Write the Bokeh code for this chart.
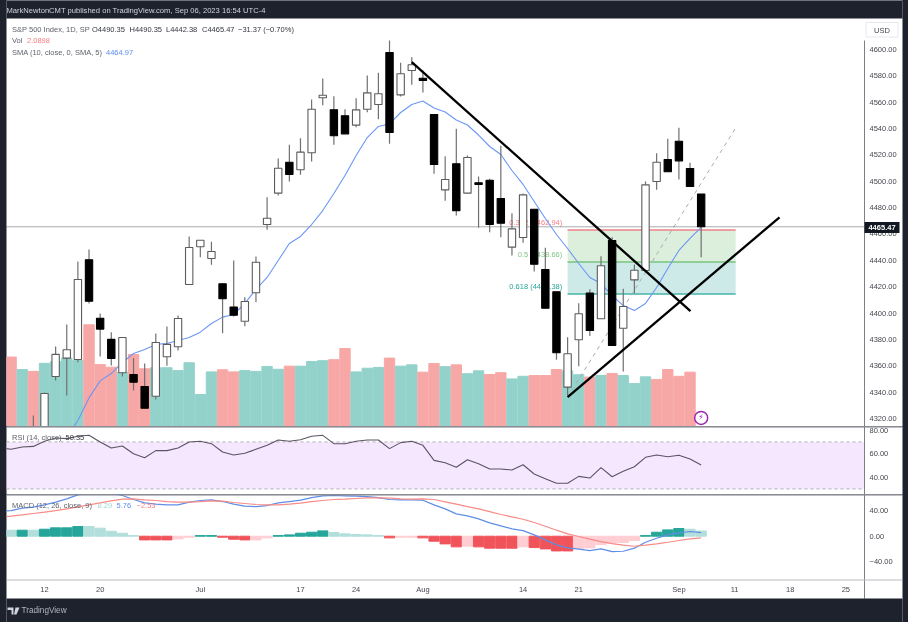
from bokeh.plotting import figure
from bokeh.layouts import column
from bokeh.embed import file_html
from bokeh.resources import INLINE
from bokeh.core.properties import value
from bokeh.models import (BoxAnnotation, Label, LinearAxis, FixedTicker, Range1d, PolyAnnotation)

# ---------- data ----------
candle_start = -1
opens = [4310,4305,4351.9,4365.8,4364.8,4440.4,4396.1,4380,4354.7,4353.4,4344.3,4336.9,4366.8,4374.4,4421.7,4450.3,4441.4,4422.2,4404.5,4393.8,4415.4,4467.2,4491,4514.5,4508.7,4521.6,4563.4,4554.2,4549.7,4542.6,4554.7,4558.3,4597.7,4565.6,4584.1,4578.2,4550.7,4493.5,4513.3,4491,4498.9,4500.8,4486.9,4450,4457.3,4478.8,4433.1,4416.1,4343.8,4379.7,4415.1,4395.7,4455.1,4388.5,4425.2,4432.3,4499.8,4516.5,4530.4,4509.7,4490.35]
highs = [4322.3,4339.7,4374.6,4391.3,4439.1,4448.2,4399.7,4385.5,4381.5,4365.8,4361.7,4384.5,4389.8,4398.2,4458.1,4455.3,4454.1,4422.2,4439.9,4412,4442.9,4487.9,4517.3,4527.7,4532.7,4562.1,4578,4564.6,4554.7,4563,4580.3,4582.3,4606.8,4589.9,4594.2,4584.1,4550.7,4519,4539.8,4519.6,4503.6,4501.9,4526.9,4475.8,4490.7,4478.8,4449.5,4416.1,4381.7,4407.5,4418.1,4443.2,4457.6,4418.4,4436.9,4499.8,4521.3,4532.2,4540.6,4514,4490.35]
lows = [4296,4300,4348.8,4337.5,4362.7,4407.3,4367,4360.2,4351.9,4341.2,4327.8,4334.4,4360,4371.6,4421.7,4442.4,4436.6,4384.7,4397.4,4390,4408.2,4463.2,4489.2,4499.8,4504.9,4515,4557.7,4527.7,4536,4541,4552.4,4547.1,4528.4,4564.3,4573.2,4567.4,4505.7,4485.2,4474,4491,4464.7,4461.4,4457.6,4443.7,4453.3,4431.5,4403.7,4364.5,4337.5,4359.7,4382.5,4395.7,4375.4,4355.7,4415.1,4432.3,4493.5,4507.2,4501.4,4496,4442.38]
closes = [4300,4339,4368.6,4372.1,4425.5,4409,4387.8,4365.5,4381.5,4347.5,4327.8,4377.7,4376.2,4395.9,4449.8,4455.3,4446.7,4410.8,4398.4,4408.8,4438.6,4472,4509.9,4505.1,4522.1,4554.7,4565.3,4534.5,4536,4554.2,4567.1,4566.4,4537,4581.6,4588.4,4576.5,4512.7,4501.4,4477.6,4518,4497.6,4467.2,4468.2,4463.9,4489.7,4437.1,4403.7,4369.9,4369.1,4399.5,4386.8,4435.9,4375.4,4405,4432.5,4497.3,4514.5,4507.2,4515.5,4496,4465.47]

volume_start = -3
volumes = [2.67,2.19,2.12,2.43,2.5,2.63,2.54,3.91,2.38,2.28,2.09,2.77,2.22,2.26,2.26,2.15,2.45,1.23,2.10,2.18,2.10,2.15,2.12,2.31,2.20,2.32,2.32,2.5,2.53,2.57,3.0,2.10,2.24,2.27,2.63,2.32,2.37,2.09,2.42,2.30,2.37,2.03,2.14,2.0,2.07,1.83,1.93,1.96,1.96,2.19,2.14,1.99,1.90,1.96,2.04,1.96,1.65,1.91,1.81,2.19,1.93,2.09,2.0898]
volume_side = list("RTRTTTTRRRTRRTTTTTTRRTTTTRTTTRRTTTRTTRRTRTTRRTTRRRTTRTRTTTRRRR")

sma_start = 2
sma = [4305.6,4318.5,4335.6,4348.5,4354.1,4362.5,4369.3,4372.4,4376.2,4376.9,4379.2,4381.5,4385.5,4392.1,4396.9,4398.9,4407.3,4417.9,4427,4439.9,4452.8,4458.1,4467.2,4477.8,4490.7,4504.4,4519.6,4533.2,4541.6,4543.5,4552.2,4558.3,4560.9,4555.6,4552.6,4546.5,4542.7,4535.1,4526.4,4520.3,4508.2,4497.6,4484.7,4471.8,4459.6,4449,4437.6,4427,4422.4,4413.3,4405.7,4402,4407.3,4419.4,4433.8,4447.5,4456.6,4464.97]

osc_start = -4
rsi = [65,63.7,65.7,66.2,70.5,73.3,72.8,74.8,75.6,69.9,64.8,66.5,60,56.6,62.6,62.6,64.8,69.9,70.5,68.5,61.4,58.9,60.3,63.7,67.1,71.6,70.5,71.9,74.8,75.6,68.5,68.5,70.5,71.6,71.6,64.3,69.4,70.5,67.1,54.3,52.3,48.4,54.9,51.5,47,47,46.1,50.6,42.7,38.7,34.8,34.8,40.7,39.3,48.1,40.4,45,48.9,56.9,58.9,57.4,58.6,55.5,50.35]
macd = [39,40.5,44.2,45.8,49.5,53.7,58.9,65.3,69.5,69.5,67.9,64.2,57.9,52.6,50.5,49.5,49.5,53.7,56.3,57.4,54.7,50.5,47.4,46.8,48.4,52.6,54.7,56.8,61,63.7,64.2,63.7,63.2,62.6,61,57.9,57.4,57.4,56.8,49.5,43.2,35.3,32.1,27.4,21.1,16.3,11.6,8.9,2.1,-5.8,-13.7,-18.4,-20.5,-22.6,-20,-24.2,-23.7,-18.9,-9.5,-3.2,2.1,5.3,7.4,5.76]
signal = [30,31.6,33.7,35.8,37.9,40.5,43.2,46.3,49.5,52.6,55.8,58.4,58.9,57.4,56.3,54.7,53.7,53.7,54.7,55.8,55.3,53.2,51.6,50,49.5,49.5,50.5,52.1,54.7,56.3,57.9,58.4,59.5,60.5,60.5,60,58.9,58.4,58.9,57.9,54.2,50.5,46.8,43.2,38.9,34.2,30.5,26.8,21.6,15.8,9.5,3.7,-0.5,-4.7,-8.4,-11.6,-14.2,-15.8,-14.2,-12.1,-9.5,-6.8,-4.2,-2.53]

hist_start = -3
hist = [9.5,9.5,9.5,11,13.2,13.2,15.3,15.3,12.6,7.9,4.7,1,-5.8,-5.8,-5.8,-4.2,-1.6,1,1,-1.6,-4.7,-5.8,-5.8,-2.6,1,2.1,4.7,6.3,8.4,5.8,3.7,2.6,2.1,1,-2.6,-1.6,-1.6,-2.6,-7.9,-12.1,-16.8,-15.8,-16.8,-18.9,-18.9,-18.9,-16.8,-17.9,-20,-23.2,-23.2,-19.5,-18.4,-13.2,-10.5,-10,-6.8,1,6.3,10,12.1,11,8.29]
hist_kind = list("LDLDDDDLLLLLRRRPPDDRRRPPDDDDDLLLLLRPPRRRRPRRRRPRRRRPPPPPPDDDDLL")

fib_levels = [4462.94, 4438.66, 4414.38]
fib_labels = ["0.382 (4462.94)", "0.5 (4438.66)", "0.618 (4414.38)"]
fib_line_colors = ["#f0808a", "#7ac47f", "#45b5a8"]
fib_text_colors = ["#f77c80", "#81c784", "#26a69a"]
fib_x = [47, 62.1]
zone_top = [4462.94, 4438.66]
zone_bottom = [4438.66, 4414.38]
zone_colors = ["#dcefdc", "#cdeae8"]

trend_down_x, trend_down_y = [33, 58.04], [4590.4, 4401.4]
trend_up_x, trend_up_y = [47, 66.04], [4336.2, 4472.7]
fib_trend_x, fib_trend_y = [47, 62.1], [4336.2, 4540.5]

price_ticks = [4320,4340,4360,4380,4400,4420,4440,4460,4480,4500,4520,4540,4560,4580,4600]
rsi_ticks = [40, 60, 80]
macd_ticks = [-40, 0, 40]
time_ticks = [0,5,14,23,28,34,43,48,57,62,67,72]
time_labels = ["12","20","Jul","17","24","Aug","14","21","Sep","11","18","25"]
last_close = closes[-1]
last_index = 59

# ---------- style ----------
DARK = "#1e222d"
FONT = "Liberation Sans"
AXIS_TXT = "#44474f"
GREY_TXT = "#5f626c"
VAL_TXT = "#33363f"
SEP = "#7d7f88"
SEP_LIGHT = "#b9bbc0"
TXT = "7.5px"
X0, X1 = -3.414, 77.09      # frame spans x = 6..902 on the page
AXIS_X = 73.67              # where the price scale begins

def pane(h, ymin, ymax):
    p = figure(width=908, height=h, x_range=Range1d(X0, X1), y_range=Range1d(ymin, ymax),
               output_backend="svg", toolbar_location=None, tools="", x_axis_type=None, y_axis_type=None,
               min_border_left=6, min_border_right=6, min_border_top=0, min_border_bottom=0,
               border_fill_color=DARK, background_fill_color="white", outline_line_color=None)
    p.xgrid.visible = False
    p.ygrid.visible = False
    return p

def right_axis(p, ticks):
    ax = LinearAxis(ticker=FixedTicker(ticks=ticks), major_tick_line_color=None, minor_tick_line_color=None,
                    axis_line_color=None, major_label_text_color=AXIS_TXT, major_label_text_font=FONT,
                    major_label_text_font_size=TXT, major_label_standoff=-39,
                    major_label_overrides={t: f"{t:.2f}".replace("-", "\u2212") for t in ticks})
    p.add_layout(ax, "right")
    return ax

def box(p, fb, l, r, t, b, color, level="guide"):
    # given in canvas pixels from the top-left; screen units count from the frame's lower-left corner
    p.add_layout(BoxAnnotation(left=l - 6, right=r - 6, top=fb - t, bottom=fb - b, left_units="screen", right_units="screen",
                               top_units="screen", bottom_units="screen", fill_color=color, fill_alpha=1,
                               line_color=None, level=level))

def label(p, fb, x, y, text, color, size=TXT, **kw):
    p.add_layout(Label(x=x - 6, y=fb - y, x_units="screen", y_units="screen", text=text, text_color=color,
                       text_font=FONT, text_font_size=size, text_baseline="middle", **kw))

# ---------- price pane: canvas y 0..426 ----------
P1H = 426
p1 = pane(P1H, 4313.9, 4637.2)
p1.extra_y_ranges = {"vol": Range1d(0, 16.38)}

xs_vol = [volume_start + i for i in range(len(volumes))]
vol_colors = ["#f7a8a6" if s == "R" else "#92d2cb" for s in volume_side]
p1.vbar(x=xs_vol, top=volumes, bottom=0, width=0.93, color=vol_colors, y_range_name="vol")

p1.quad(left=fib_x[0], right=fib_x[1], top=zone_top, bottom=zone_bottom, fill_color=zone_colors, line_color=None)
for lv, c in zip(fib_levels, fib_line_colors):
    p1.line(fib_x, [lv, lv], line_color=c, line_width=1.5)
p1.text(x=[46.52] * 3, y=fib_levels, text=fib_labels, text_color=fib_text_colors, text_font=value(FONT),
        text_font_size=TXT, text_align="right", text_baseline="bottom", y_offset=-3)
p1.line(fib_trend_x, fib_trend_y, line_color="#a8abb4", line_width=1, line_dash="4 4")

p1.line([X0, AXIS_X], [last_close, last_close], line_color="#55585f", line_width=1, line_dash="1 1")

xs_sma = [sma_start + i for i in range(len(sma))]
p1.line(xs_sma, sma, line_color="#6a96f5", line_width=1.1)

xs_c = [candle_start + i for i in range(len(opens))]
p1.segment(x0=xs_c, x1=xs_c, y0=lows, y1=highs, line_color="#707070", line_width=1.2)
tops = [max(o, c) for o, c in zip(opens, closes)]
bots = [min(o, c) for o, c in zip(opens, closes)]
fills = ["white" if c >= o else "black" for o, c in zip(opens, closes)]
edges = ["#5c5c5c" if c >= o else "black" for o, c in zip(opens, closes)]
p1.vbar(x=xs_c, top=tops, bottom=bots, width=0.66, fill_color=fills, line_color=edges, line_width=1.1)

p1.line(trend_down_x, trend_down_y, line_color="black", line_width=2.3)
p1.line(trend_up_x, trend_up_y, line_color="black", line_width=2.3)

p1.scatter(x=[last_index], y=[0.33], size=13, marker="circle", fill_color="white", line_color="#9c27b0",
           line_width=1.5, y_range_name="vol")
p1.text(x=[last_index], y=[0.33], text=["\u26a1"], text_color="#9c27b0", text_font=value("DejaVu Sans"),
        text_font_size="8px", text_align="center", text_baseline="middle", y_range_name="vol")

right_axis(p1, price_ticks)
box(p1, P1H, 863.5, 864.5, 40, 426, SEP)
box(p1, P1H, 0, 908, 0, 18, DARK, "annotation")

def L1(x, y, t, c, **k):
    label(p1, P1H, x, y, t, c, **k)

L1(6, 10, "MarkNewtonCMT published on TradingView.com, Sep 06, 2023 16:54 UTC-4", "#d1d4dc", size="7.6px")
L1(11.5, 28.5, "S&P 500 Index, 1D, SP", GREY_TXT)
for x, t in [(91.5, "O4490.35"), (129, "H4490.35"), (165.5, "L4442.38"), (201.5, "C4465.47"), (237.5, "\u221231.37 (\u22120.70%)")]:
    L1(x, 28.5, t, VAL_TXT)
L1(11.5, 39.5, "Vol", GREY_TXT)
L1(26.5, 39.5, "2.0898", "#f77c80")
L1(11.5, 51.5, "SMA (10, close, 0, SMA, 5)", GREY_TXT)
L1(105.5, 51.5, "4464.97", "#5b8def")

box(p1, P1H, 865, 898, 21.5, 37, "#e6e8ee", "annotation")
box(p1, P1H, 866, 897, 22.5, 36, "white", "annotation")
L1(881.5, 29.5, "USD", AXIS_TXT, text_align="center")

box(p1, P1H, 864, 899, 221.5, 232.5, "#131722", "annotation")
L1(881.5, 227, f"{last_close:.2f}", "white", text_align="center", text_font_style="bold")

# ---------- RSI pane: canvas top = page y 426 ----------
P2H = 68
p2 = pane(P2H, 25.3, 83.1)
p2.quad(left=X0, right=AXIS_X, top=70, bottom=30, fill_color="#f5e7fd", line_color=None)
for lv in (70, 30):
    p2.line([X0, AXIS_X], [lv, lv], line_color="#b4aeba", line_width=1, line_dash="3 3")
xs_osc = [osc_start + i for i in range(len(rsi))]
p2.line(xs_osc, rsi, line_color="#5c5364", line_width=1.1)
right_axis(p2, rsi_ticks)
box(p2, P2H, 6, 902, 0, 1, SEP)
box(p2, P2H, 863.5, 864.5, 0, 68, SEP)
label(p2, P2H, 11.5, 11, "RSI (14, close)", GREY_TXT)
label(p2, P2H, 65, 11, "50.35", VAL_TXT)

# ---------- MACD pane: canvas top = page y 494, to the page's bottom ----------
P3H = 128
p3 = pane(P3H, -136.1, 65.8)
hist_palette = {"D": "#26a69a", "L": "#b2dfdb", "R": "#f0535a", "P": "#ffcdd2"}
xs_hist = [hist_start + i for i in range(len(hist))]
p3.vbar(x=xs_hist, top=hist, bottom=0, width=0.92, color=[hist_palette[k] for k in hist_kind])
p3.line(xs_osc, macd, line_color="#5f8ee6", line_width=1.2)
p3.line(xs_osc, signal, line_color="#f98a85", line_width=1.2)
right_axis(p3, macd_ticks)
bottom_axis = LinearAxis(ticker=FixedTicker(ticks=time_ticks), major_tick_line_color=None, minor_tick_line_color=None,
                         axis_line_color=None, major_label_text_color=AXIS_TXT, major_label_text_font=FONT,
                         major_label_text_font_size=TXT, major_label_standoff=-44,
                         major_label_overrides=dict(zip(time_ticks, time_labels)))
p3.add_layout(bottom_axis, "below")
box(p3, P3H, 6, 902, 0, 1, SEP)
box(p3, P3H, 863.5, 864.5, 0, 104, SEP)
box(p3, P3H, 6, 902, 85, 86, SEP_LIGHT)
box(p3, P3H, 0, 908, 104, 128, DARK, "annotation")
label(p3, P3H, 11.5, 11, "MACD (12, 26, close, 9)", GREY_TXT)
label(p3, P3H, 97, 11, "8.29", "#9fd8d1")
label(p3, P3H, 116, 11, "5.76", "#5b8def")
label(p3, P3H, 136, 11, "\u22122.53", "#f77c80")
label(p3, P3H, 21, 116, "TradingView", "#b2b5be", size="8.2px")
LOGO_A_X, LOGO_A_Y = [7, 13, 13, 11, 11, 7], [113, 113, 120, 120, 115.5, 115.5]
LOGO_B_X, LOGO_B_Y = [15, 19, 16, 13.5], [113, 113, 120, 120]
for xs, ys in ((LOGO_A_X, LOGO_A_Y), (LOGO_B_X, LOGO_B_Y)):
    p3.add_layout(PolyAnnotation(xs=[x - 6 for x in xs], ys=[P3H - y for y in ys], xs_units="screen", ys_units="screen",
                                 fill_color="#d1d4dc", fill_alpha=1, line_color=None, level="annotation"))

root = column(p1, p2, p3, spacing=0, styles={"position": "fixed", "left": "0", "top": "0", "background": DARK,
                                             "filter": "blur(0.35px)"})
open("out.html", "w").write(file_html(root, INLINE))
